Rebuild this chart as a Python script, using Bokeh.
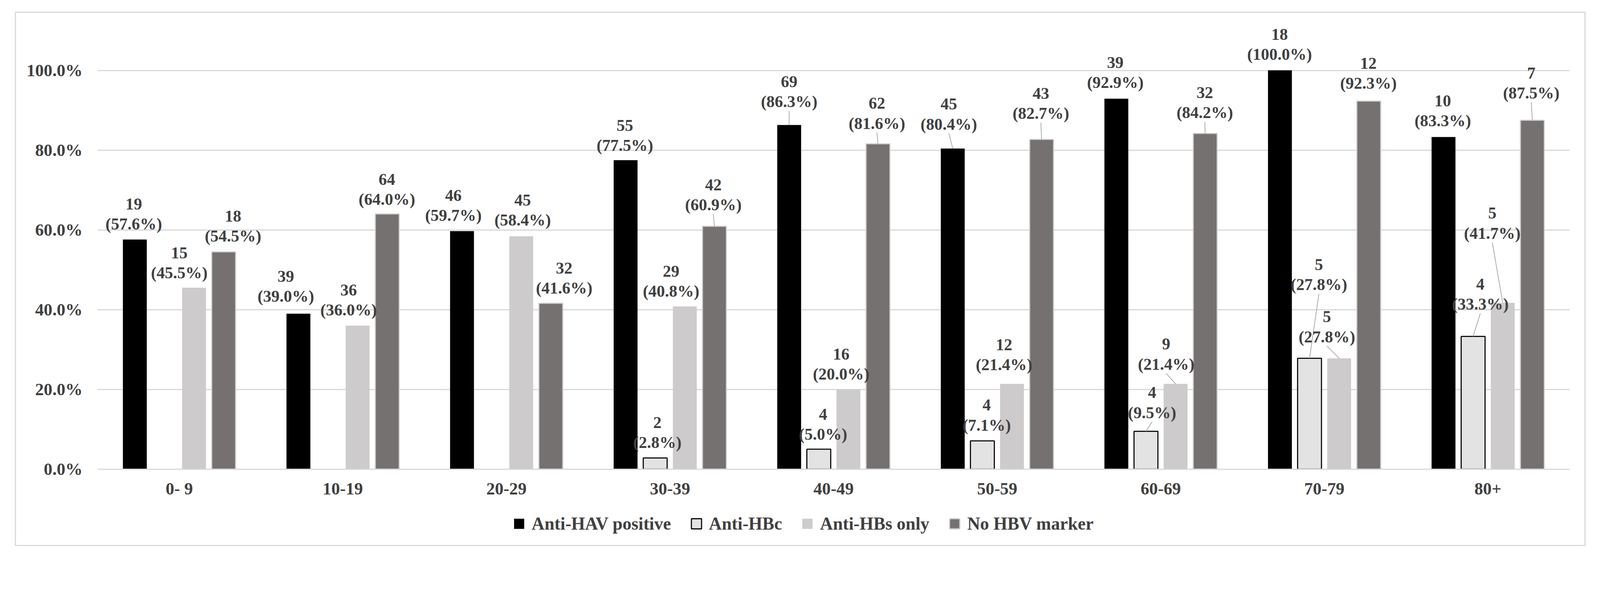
import numpy as np
from bokeh.plotting import figure
from bokeh.models import (Range1d, FixedTicker, CustomJSTickFormatter, PrintfTickFormatter,
                          ColumnDataSource, Legend, LegendItem)
from bokeh.core.properties import value
from bokeh.embed import file_html
from bokeh.resources import INLINE

# ---------------- data ----------------
categories = ["0- 9", "10-19", "20-29", "30-39", "40-49", "50-59", "60-69", "70-79", "80+"]
series_names = ["Anti-HAV positive", "Anti-HBc", "Anti-HBs only", "No HBV marker"]

hav_n = [19, 39, 46, 55, 69, 45, 39, 18, 10]
hav_pct = [57.6, 39.0, 59.7, 77.5, 86.3, 80.4, 92.9, 100.0, 83.3]

hbc_n = [0, 0, 0, 2, 4, 4, 4, 5, 4]
hbc_pct = [0.0, 0.0, 0.0, 2.8, 5.0, 7.1, 9.5, 27.8, 33.3]

hbs_n = [15, 36, 45, 29, 16, 12, 9, 5, 5]
hbs_pct = [45.5, 36.0, 58.4, 40.8, 20.0, 21.4, 21.4, 27.8, 41.7]

nohbv_n = [18, 64, 32, 42, 62, 43, 32, 12, 7]
nohbv_pct = [54.5, 64.0, 41.6, 60.9, 81.6, 82.7, 84.2, 92.3, 87.5]

y_ticks = [0, 20, 40, 60, 80, 100]

# ---------------- label placement (reference px) ----------------
hav_dx = [-3, -35, -24, -2, 0, -11, -3, -1, -2]
hav_dy = [43, 48, 44, 41, 65, 68, 45, 45, 45]
hav_lead = [0, 0, 0, 0, 1, 1, 0, 0, 0]

hbc_dx = [0, 0, 0, 6, 12, 12, 17, 26, 20]
hbc_dy = [0, 0, 0, 43, 42, 44, 52, 204, 90]
hbc_lead = [0, 0, 0, 0, 0, 0, 1, 1, 1]

hbs_dx = [-41, -25, 4, -38, -20, -22, -26, -34, -29]
hbs_dy = [42, 44, 45, 43, 43, 53, 55, 60, 193]
hbs_lead = [0, 0, 0, 0, 0, 0, 1, 1, 1]

nohbv_dx = [26, -1, 37, -3, -3, -2, -1, -1, -3]
nohbv_dy = [44, 41, 42, 60, 57, 72, 58, 50, 76]
nohbv_lead = [0, 0, 0, 1, 1, 1, 1, 0, 1]

# ---------------- layout / style ----------------
S = 4096 / 4445          # css px per picture px


def px(v):
    return v * S


# outer chart box (picture px), plot frame (picture px)
BOX_L, BOX_T, BOX_R, BOX_B = 50, 41, 4413, 1525
FR_L, FR_T, FR_R, FR_B = 279, 70, 4362, 1500
ZERO_Y = 1305            # picture y of the 0 % line
PCT_PX = 11.02           # picture px per percentage point
BORDER = 3               # css px

host_l = round(px(BOX_L))
host_t = round(px(BOX_T))
org_x = host_l + BORDER  # canvas origin (css px, page coords)
org_y = host_t + BORDER
W = round(px(BOX_R)) - BORDER - org_x
H = round(px(BOX_B)) - BORDER - org_y

ML = round(px(FR_L) - org_x)
MR = round(org_x + W - px(FR_R))
MT = round(px(FR_T) - org_y)
MB = round(org_y + H - px(FR_B))
FRAME_W = W - ML - MR
FRAME_H = H - MT - MB
PX_PER_CAT = FRAME_W / len(categories)
PX_PER_PCT = px(PCT_PX)
zero_rel = px(ZERO_Y) - org_y
frame_bottom = H - MB
Y_START = -(frame_bottom - zero_rel) / PX_PER_PCT
Y_END = Y_START + FRAME_H / PX_PER_PCT

SLOTS = [-0.2715, -0.0905, 0.0905, 0.2715]
BAR_W = 0.146
FONT = "Liberation Serif"
TXT = "#404040"
GRID = "#d9d9d9"
LW = px(3)

styles = [
    dict(fill_color="#000000", line_color=None),
    dict(fill_color="#e3e3e3", line_color="#000000", line_width=LW),
    dict(fill_color="#cdcbcb", line_color=None),
    dict(fill_color="#767171", line_color="#d0cece", line_width=LW),
]

p = figure(width=W, height=H, x_range=Range1d(0, len(categories)), y_range=Range1d(Y_START, Y_END),
           output_backend="svg", toolbar_location=None, tools="",
           min_border_left=ML, min_border_right=MR, min_border_top=MT, min_border_bottom=MB,
           margin=(host_t - 8, 0, 0, host_l - 8),
           styles={"border": "%dpx solid %s" % (BORDER, GRID), "box-sizing": "content-box"})
p.title = None
p.outline_line_color = None
p.background_fill_color = "white"
p.border_fill_color = "white"

# axes
p.xgrid.visible = False
p.ygrid.ticker = FixedTicker(ticks=y_ticks)
p.ygrid.grid_line_color = GRID
p.ygrid.grid_line_width = LW

p.yaxis.ticker = FixedTicker(ticks=y_ticks)
p.yaxis.formatter = PrintfTickFormatter(format="%.1f%%")
p.yaxis.axis_line_color = None
p.yaxis.major_tick_line_color = None
p.yaxis.minor_tick_line_color = None
p.yaxis.major_tick_out = 0
p.yaxis.major_tick_in = 0
p.yaxis.major_label_standoff = round(px(41))

p.xaxis.fixed_location = 0
p.xaxis.ticker = FixedTicker(ticks=[i + 0.5 for i in range(len(categories))])
p.xaxis.formatter = CustomJSTickFormatter(args=dict(cats=categories),
                                          code="return cats[Math.round(tick - 0.5)];")
p.xaxis.axis_line_color = GRID
p.xaxis.axis_line_width = LW
p.xaxis.major_tick_line_color = None
p.xaxis.minor_tick_line_color = None
p.xaxis.major_tick_out = 0
p.xaxis.major_tick_in = 0
p.xaxis.major_label_standoff = round(px(28))

for ax in (p.xaxis, p.yaxis):
    ax.major_label_text_font = FONT
    ax.major_label_text_font_style = "bold"
    ax.major_label_text_font_size = "%.1fpx" % px(48)
    ax.major_label_text_color = TXT

all_n = [hav_n, hbc_n, hbs_n, nohbv_n]
all_pct = [hav_pct, hbc_pct, hbs_pct, nohbv_pct]
all_dx = [hav_dx, hbc_dx, hbs_dx, nohbv_dx]
all_dy = [hav_dy, hbc_dy, hbs_dy, nohbv_dy]
all_lead = [hav_lead, hbc_lead, hbs_lead, nohbv_lead]

bar_sources = []
label_sources = []
lead_sources = []
for k in range(4):
    n = np.array(all_n[k])
    pct = np.array(all_pct[k], dtype=float)
    keep = n > 0
    idx = np.arange(len(categories))[keep]
    x = idx + 0.5 + SLOTS[k]
    top = pct[keep]
    src = ColumnDataSource(dict(x=x, top=top))
    bar_sources.append(src)
    p.vbar(x="x", top="top", bottom=0, width=BAR_W, source=src, **styles[k])

    dx = px(np.array(all_dx[k], dtype=float)[keep]) / PX_PER_CAT
    dy = px(np.array(all_dy[k], dtype=float)[keep]) / PX_PER_PCT
    lx = x + dx
    ly = top + dy
    label_sources.append(ColumnDataSource(dict(
        x=lx, y=ly,
        cnt=[str(v) for v in n[keep]],
        pc=["(%.1f%%)" % v for v in top],
    )))
    lead = np.array(all_lead[k])[keep] > 0
    lead_sources.append(ColumnDataSource(dict(
        x0=lx[lead], y0=(ly - px(26) / PX_PER_PCT)[lead], x1=x[lead], y1=top[lead],
    )))

for ls in lead_sources:
    p.segment(x0="x0", y0="y0", x1="x1", y1="y1", source=ls, line_color="#a6a6a6", line_width=px(2))

for src in label_sources:
    common = dict(text_font=value(FONT), text_font_style="bold",
                  text_font_size="%.1fpx" % px(46),
                  text_color=TXT, text_align="center", text_baseline="middle", source=src)
    p.text(x="x", y="y", text="pc", **common)
    p.text(x="x", y="y", text="cnt", y_offset=-px(55), **common)

# legend swatches: hidden square markers on the bar data, styled like the bars
swatches = []
for k in range(4):
    st = styles[k]
    sw = p.scatter(x="x", y="top", source=bar_sources[k], marker="square",
                   fill_color=st["fill_color"], line_color=st["line_color"],
                   line_width=st.get("line_width", 1), visible=False)
    swatches.append(sw)

GLYPH = round(px(28) / 0.4)             # marker drawn at 0.4 of the glyph box
glyph_pad = (GLYPH - px(28)) / 2
row_center = px(1456) - org_y
legend = Legend(items=[LegendItem(label=series_names[k], renderers=[swatches[k]]) for k in range(4)],
                orientation="horizontal",
                location=(round(px(1437) - glyph_pad - px(FR_L)),
                          round(frame_bottom - (row_center + GLYPH / 2))),
                glyph_width=GLYPH, glyph_height=GLYPH,
                label_standoff=round(px(7) - glyph_pad), spacing=round(px(73) - glyph_pad - 15.5),
                padding=0, margin=0, border_line_color=None, background_fill_alpha=0,
                inactive_fill_alpha=0,
                label_text_font=FONT, label_text_font_style="bold",
                label_text_font_size="%.1fpx" % px(49.5), label_text_color=TXT)
p.add_layout(legend)

open("out.html", "w").write(file_html(p, INLINE))
